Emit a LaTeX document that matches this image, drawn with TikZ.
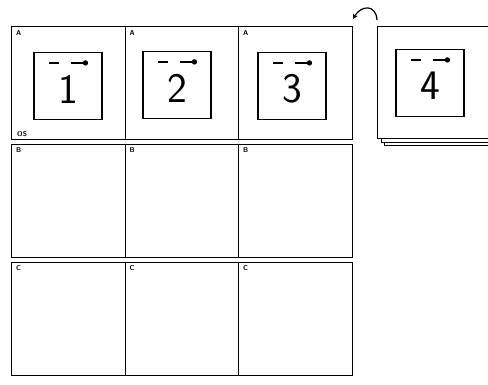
\documentclass[tikz,border=0pt]{standalone}
\usetikzlibrary{arrows.meta}
\begin{document}
\begin{tikzpicture}[x=1pt,y=-1pt,
  cell/.style={draw, line width=1.3pt, minimum width=113.5pt, minimum height=113pt, inner sep=0pt, anchor=north west},
  sheet/.style={draw, fill=white, line width=1.2pt, minimum width=140pt, minimum height=112pt, inner sep=0pt, anchor=north west},
  card/.style={draw, line width=1.2pt, minimum width=68pt, minimum height=67pt, inner sep=0pt},
  lab/.style={font=\sffamily\bfseries\fontsize{7}{8}\selectfont, inner sep=0pt},
  num/.style={font=\sffamily\fontsize{42}{42}\selectfont, inner sep=0pt},
  pin/.style={line width=1.2pt}]
\useasboundingbox (0,0) rectangle (488,384);
% grid
\node[cell] (a1) at (11,26) {};
\node[cell] (a2) at (124.5,26) {};
\node[cell] (a3) at (238,26) {};
\node[cell] (b1) at (11,143.5) {};
\node[cell] (b2) at (124.5,143.5) {};
\node[cell] (b3) at (238,143.5) {};
\node[cell] (c1) at (11,261.5) {};
\node[cell] (c2) at (124.5,261.5) {};
\node[cell] (c3) at (238,261.5) {};
% labels
\foreach \n/\t in {a1/A,a2/A,a3/A,b1/B,b2/B,b3/B,c1/C,c2/C,c3/C}
  \node[lab, anchor=north west] (l\n) at ([shift={(5,4)}]\n.north west) {\t};
\node[lab, anchor=south west] (os) at ([shift={(6,-3)}]a1.south west) {OS};
% stack
\node[sheet] (s3) at (384,33) {};
\node[sheet] (s2) at (380.5,29.5) {};
\node[sheet] (s1) at (377,26) {};
% cards
\foreach \n/\cx/\cy/\d in {k1/68/86/1, k2/177/85/2, k3/292/86/3, k4/430/83/4}{
  \node[card] (\n) at (\cx,\cy) {};
  \node[num] (\n t) at ([yshift=-3pt]\n.center) {\d};
  \draw[pin] ([shift={(16,11)}]\n.north west) -- ([shift={(26,11)}]\n.north west);
  \draw[pin] ([shift={(38,11)}]\n.north west) -- ([shift={(51,11)}]\n.north west);
  \fill ([shift={(52,11)}]\n.north west) circle (2.7);
}
% arrow
\coordinate (arrS) at (377,20);
\coordinate (arrE) at (353,19);
\draw[line width=1.2pt, -{Stealth[length=5pt,width=5pt]}] (arrS) .. controls (376,4) and (361,5) .. (arrE);
\end{tikzpicture}
\end{document}
